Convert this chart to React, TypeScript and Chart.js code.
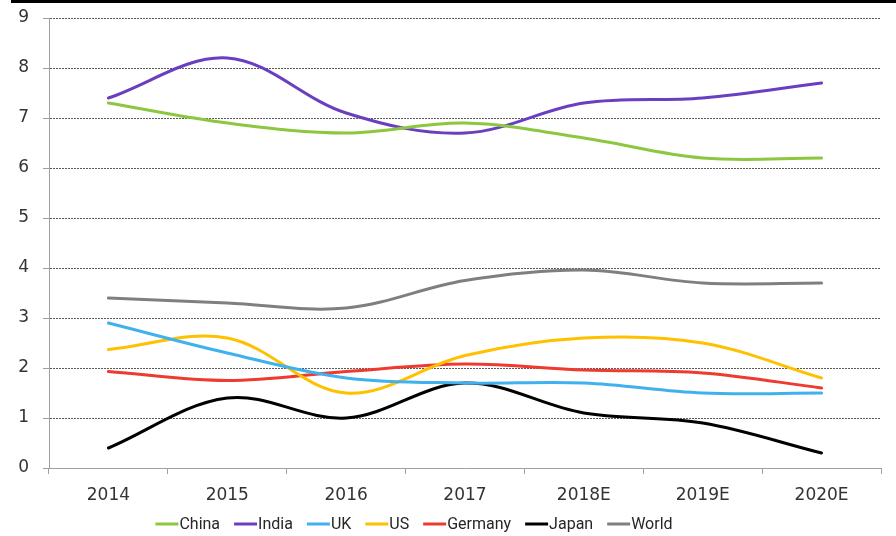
import React, { useEffect, useRef } from 'react';
import { Chart, registerables } from 'chart.js';
Chart.register(...registerables);

const categories = ['2014', '2015', '2016', '2017', '2018E', '2019E', '2020E'];
const china = [7.3, 6.9, 6.7, 6.9, 6.6, 6.2, 6.2];
const india = [7.4, 8.2, 7.1, 6.7, 7.3, 7.4, 7.7];
const uk = [2.9, 2.3, 1.8, 1.7, 1.7, 1.5, 1.5];
const us = [2.37, 2.6, 1.5, 2.25, 2.6, 2.5, 1.8];
const germany = [1.93, 1.75, 1.93, 2.08, 1.96, 1.9, 1.6];
const japan = [0.4, 1.4, 1.0, 1.7, 1.1, 0.9, 0.3];
const world = [3.4, 3.3, 3.2, 3.75, 3.96, 3.7, 3.7];
const yMin = 0;
const yMax = 9;
const yStep = 1;

const seriesNames = ['China', 'India', 'UK', 'US', 'Germany', 'Japan', 'World'];
const seriesData = [china, india, uk, us, germany, japan, world];
const seriesColors = ['#8DC63F', '#6A3FBF', '#3FB1EE', '#FFC000', '#EE3A2F', '#000000', '#7F7F7F'];

const LEGEND_CENTER_X = 414;
const LEGEND_Y = 524;

const bgPlugin = {
  id: 'bgAndTopRule',
  beforeDraw(chart: any) {
    const ctx = chart.ctx;
    ctx.save();
    ctx.fillStyle = '#ffffff';
    ctx.fillRect(0, 0, chart.width, chart.height);
    ctx.fillStyle = '#000000';
    ctx.fillRect(11, 0, chart.width - 11, 3);
    ctx.restore();
  },
};

const legendPlugin = {
  id: 'customLegend',
  afterDraw(chart: any) {
    const ctx = chart.ctx;
    ctx.save();
    ctx.font = '16px Roboto';
    ctx.textBaseline = 'middle';
    const lineW = 23;
    const gap = 1;
    const itemGap = 14;
    const items = chart.data.datasets.map((d: any) => ({
      label: d.label,
      color: d.borderColor,
      w: ctx.measureText(d.label).width,
    }));
    const total =
      items.reduce((s: number, it: any) => s + lineW + gap + it.w, 0) + itemGap * (items.length - 1);
    let x = LEGEND_CENTER_X - total / 2;
    for (const it of items) {
      ctx.strokeStyle = it.color;
      ctx.lineWidth = 3;
      ctx.beginPath();
      ctx.moveTo(x, LEGEND_Y);
      ctx.lineTo(x + lineW, LEGEND_Y);
      ctx.stroke();
      ctx.fillStyle = '#262626';
      ctx.fillText(it.label, x + lineW + gap, LEGEND_Y + 1);
      x += lineW + gap + it.w + itemGap;
    }
    ctx.restore();
  },
};

export default function App() {
  const ref = useRef<HTMLCanvasElement | null>(null);
  useEffect(() => {
    if (!ref.current) return;
    const chart = new Chart(ref.current, {
      type: 'line',
      data: {
        labels: categories,
        datasets: seriesNames.map((name, i) => ({
          label: name,
          data: seriesData[i],
          borderColor: seriesColors[i],
          backgroundColor: seriesColors[i],
          borderWidth: 3,
          pointRadius: 0,
          tension: 0.35,
          borderCapStyle: 'round',
          fill: false,
        })),
      },
      options: {
        animation: false,
        responsive: false,
        layout: { padding: { left: 18, right: 15, top: 18, bottom: 28 } },
        plugins: { legend: { display: false }, tooltip: { enabled: false } },
        scales: {
          x: {
            offset: true,
            grid: {
              display: true,
              drawOnChartArea: false,
              offset: true,
              tickLength: 6,
              tickColor: '#A0A0A0',
            },
            border: { display: true, color: '#A0A0A0', width: 1 },
            ticks: {
              color: '#333333',
              font: { family: 'DejaVu Sans', size: 17 },
              padding: 11,
              maxRotation: 0,
            },
            afterFit(scale: any) {
              scale.height = 40;
              scale.paddingLeft = 0;
              scale.paddingRight = 0;
            },
          },
          y: {
            min: yMin,
            max: yMax,
            ticks: {
              stepSize: yStep,
              color: '#333333',
              font: { family: 'DejaVu Sans', size: 17 },
              padding: 14,
            },
            grid: {
              color: (c: any) => (c.tick && c.tick.value === 0 ? 'rgba(0,0,0,0)' : '#595959'),
              lineWidth: 1,
              tickLength: 6,
              tickColor: '#A0A0A0',
            },
            border: { display: true, color: '#A0A0A0', width: 1, dash: [2, 1] },
            afterFit(scale: any) {
              scale.width = 31;
              scale.paddingTop = 0;
              scale.paddingBottom = 0;
            },
          },
        },
      },
      plugins: [bgPlugin, legendPlugin],
    } as any);
    return () => chart.destroy();
  }, []);
  return (
    <div style={{ position: 'absolute', left: 0, top: 0, width: 896, height: 536 }}>
      <canvas ref={ref} width={896} height={536} />
    </div>
  );
}
